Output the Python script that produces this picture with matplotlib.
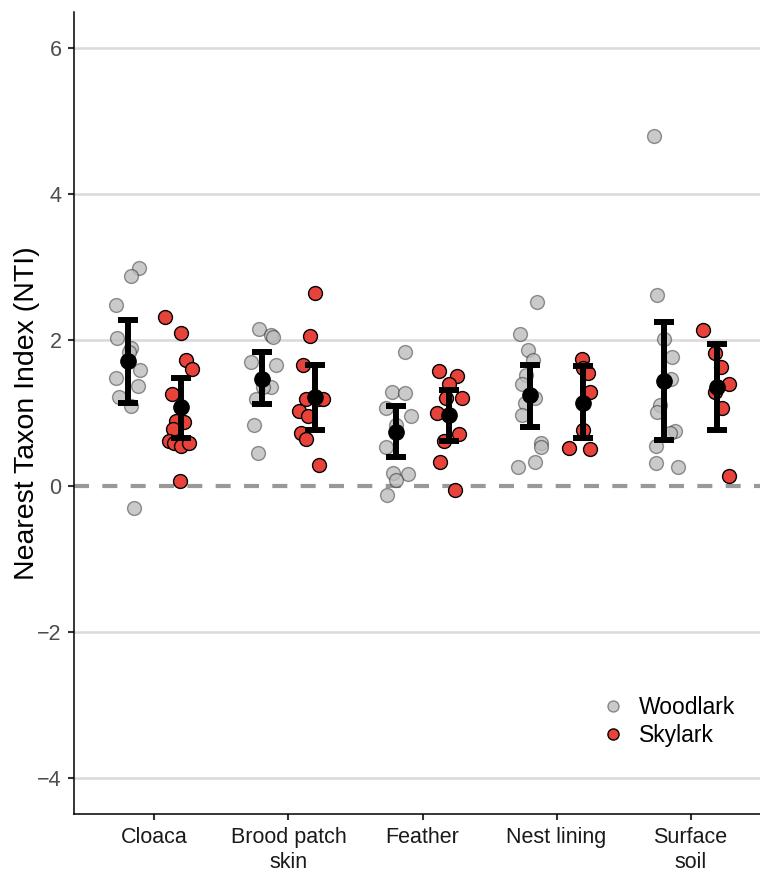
import numpy as np
import matplotlib
matplotlib.use("Agg")
import matplotlib.pyplot as plt
from matplotlib.lines import Line2D

plt.rcParams['font.family'] = ['Liberation Sans', 'DejaVu Sans']

categories = ["Cloaca", "Brood patch\nskin", "Feather", "Nest lining", "Surface\nsoil"]

# raw NTI values per sample
wood_vals = [
    [2.98, 2.88, 2.48, 2.03, 1.89, 1.84, 1.59, 1.48, 1.37, 1.22, 1.09, -0.30],
    [2.15, 2.07, 2.04, 1.70, 1.65, 1.36, 1.36, 1.19, 0.83, 0.45],
    [1.84, 1.28, 1.27, 1.06, 0.95, 0.84, 0.53, 0.18, 0.16, 0.08, -0.13],
    [2.52, 2.08, 1.86, 1.73, 1.52, 1.39, 1.20, 1.13, 0.97, 0.59, 0.53, 0.32, 0.26],
    [4.80, 2.61, 2.01, 1.77, 1.46, 1.11, 1.01, 0.75, 0.72, 0.54, 0.31, 0.26],
]
wood_jit = [
    [0.088, 0.026, -0.086, -0.078, 0.026, 0.008, 0.096, -0.086, 0.075, -0.061, 0.026, 0.046],
    [-0.022, 0.071, 0.083, -0.078, 0.108, 0.071, 0.008, -0.041, -0.054, -0.029],
    [0.066, -0.026, 0.073, -0.076, 0.113, -0.001, -0.069, -0.019, 0.093, -0.001, -0.063],
    [0.053, -0.071, -0.014, 0.023, -0.026, -0.056, 0.036, -0.039, -0.056, 0.081, 0.086, 0.043, -0.086],
    [-0.076, -0.051, 0.001, 0.060, 0.056, -0.031, -0.051, 0.081, 0.043, -0.056, -0.056, 0.105],
]
sky_vals = [
    [2.32, 2.10, 1.73, 1.60, 1.26, 0.87, 0.89, 0.78, 0.62, 0.58, 0.55, 0.58, 0.07],
    [2.64, 2.06, 1.65, 1.19, 1.19, 1.19, 1.03, 0.95, 0.73, 0.64, 0.29],
    [1.58, 1.51, 1.39, 1.21, 1.20, 1.00, 0.71, 0.61, 0.32, -0.06],
    [1.74, 1.62, 1.54, 1.28, 0.77, 0.52, 0.50],
    [2.13, 1.82, 1.63, 1.39, 1.29, 1.07, 0.13],
]
sky_jit = [
    [-0.118, 0.0, 0.037, 0.078, -0.068, 0.024, -0.038, -0.063, -0.088, -0.051, 0.0, 0.061, -0.008],
    [0.0, -0.043, -0.088, 0.019, 0.056, -0.068, -0.118, -0.056, -0.11, -0.068, 0.031],
    [-0.078, 0.054, -0.004, 0.091, -0.028, -0.09, 0.071, -0.036, -0.066, 0.041],
    [-0.011, 0.0, 0.034, 0.046, 0.001, -0.11, 0.051],
    [-0.108, -0.016, 0.029, 0.086, -0.021, 0.037, 0.086],
]

# group means and interval ends
wood_mean = [1.71, 1.47, 0.74, 1.24, 1.44]
wood_lo = [1.14, 1.12, 0.40, 0.81, 0.63]
wood_hi = [2.27, 1.83, 1.09, 1.66, 2.25]
sky_mean = [1.08, 1.22, 0.97, 1.13, 1.35]
sky_lo = [0.65, 0.77, 0.62, 0.65, 0.76]
sky_hi = [1.48, 1.66, 1.32, 1.64, 1.95]

yticks = [-4, -2, 0, 2, 4, 6]

W, H = 760, 871
fig = plt.figure(figsize=(W / 100, H / 100), dpi=100)
ax = fig.add_axes([74 / W, 1 - 814 / H, 697 / W, 802.3 / H])

wood_face = (0.74, 0.74, 0.74, 0.8)
wood_edge = (0.0, 0.0, 0.0, 0.4)
sky_face = "#e8433a"
dodge = 0.2

pos = np.arange(1, len(categories) + 1)

# grid lines, none under the dashed zero line
for t in yticks:
    if t != 0:
        ax.axhline(t, color="#d9d9d9", lw=1.8, zorder=0)
ax.axhline(0, color="#999999", lw=3.0, ls=(0, (3.6, 3.2)), zorder=2)

for i in range(len(categories)):
    xw = pos[i] - dodge + np.array(wood_jit[i])
    ax.scatter(xw, wood_vals[i], s=100, facecolor=wood_face, edgecolor=wood_edge,
               linewidth=1.0, zorder=3)
    xs = pos[i] + dodge + np.array(sky_jit[i])
    ax.scatter(xs, sky_vals[i], s=100, facecolor=sky_face, edgecolor="black",
               linewidth=1.0, zorder=3)

for off, m, lo, hi in [(-dodge, wood_mean, wood_lo, wood_hi),
                       (dodge, sky_mean, sky_lo, sky_hi)]:
    m = np.array(m)
    yerr = [m - np.array(lo), np.array(hi) - m]
    ax.errorbar(pos + off, m, yerr=yerr, fmt="o", color="black", ms=11,
                elinewidth=4.3, capsize=7.5, capthick=4.3, zorder=5)

ax.set_xlim(0.4, 5.6)
ax.set_ylim(-4.5, 6.5)
ax.set_yticks(yticks)
ax.set_yticklabels(["\u22124", "\u22122", "0", "2", "4", "6"])
ax.set_xticks(pos)
ax.set_xticklabels(categories, linespacing=1.25)

for side in ["top", "right"]:
    ax.spines[side].set_visible(False)
for side in ["left", "bottom"]:
    ax.spines[side].set_linewidth(1.1)

ax.tick_params(axis="y", labelsize=15.5, labelcolor="#4d4d4d", length=4,
               width=1.5, color="#333333", pad=5)
ax.tick_params(axis="x", labelsize=15.5, labelcolor="#1a1a1a", length=4,
               width=1.5, color="#333333", pad=5)
ax.set_ylabel("Nearest Taxon Index (NTI)", fontsize=20.5)
ax.yaxis.set_label_coords((27 - 74) / 697, 0.5)
ax.yaxis.label.set_verticalalignment("center")

handles = [
    Line2D([], [], ls="none", marker="o", ms=8, markerfacecolor=wood_face,
           markeredgecolor=wood_edge, label="Woodlark"),
    Line2D([], [], ls="none", marker="o", ms=8, markerfacecolor=sky_face,
           markeredgecolor="black", label="Skylark"),
]
ax.legend(handles=handles, loc="lower right", bbox_to_anchor=(670 / 697, 0.072),
          frameon=False, fontsize=16.5, handlelength=1.0, handletextpad=0.6,
          labelspacing=0.2, borderaxespad=0, alignment="left")

fig.savefig("out.png", dpi=100)
